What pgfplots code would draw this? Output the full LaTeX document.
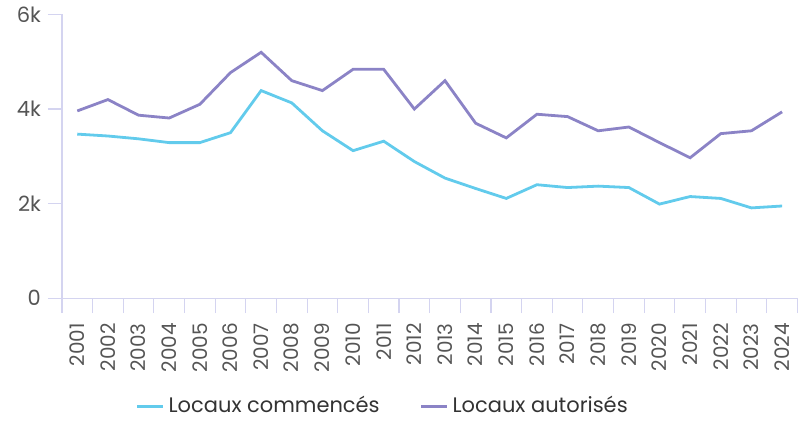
\documentclass[border=0pt]{standalone}
\usepackage{pgfplots}
\pgfplotsset{compat=1.18}
\usepackage{fontspec}
\setmainfont{Poppins}
\definecolor{cblue}{HTML}{62CBEC}
\definecolor{cpurple}{HTML}{8B83C6}
\definecolor{caxis}{HTML}{D4D4F0}
\definecolor{ctick}{HTML}{555555}
\begin{document}
\begin{tikzpicture}
\begin{axis}[
  scale only axis,
  width=368pt, height=142pt,
  xmin=-0.5, xmax=23.5,
  ymin=0, ymax=6000,
  axis x line=bottom, axis y line=left,
  axis line style={-, draw=caxis, line width=0.6pt},
  xtick={0,...,23},
  xticklabels={2001,2002,2003,2004,2005,2006,2007,2008,2009,2010,2011,2012,2013,2014,2015,2016,2017,2018,2019,2020,2021,2022,2023,2024},
  minor xtick={-0.5,0.5,...,23.5},
  major x tick style={draw=none},
  minor x tick style={draw=caxis, line width=0.6pt},
  minor tick length=7.5pt,
  ytick={0,2000,4000,6000},
  yticklabels={0,2k,4k,6k},
  y tick style={draw=caxis, line width=0.6pt},
  major tick length=7pt,
  tick align=outside,
  /pgf/number format/assume math mode=true,
  xticklabel style={rotate=90, anchor=east, font=\fontsize{10}{12}\selectfont, text=ctick, xshift=-2pt},
  yticklabel style={font=\fontsize{10.5}{12}\selectfont, text=ctick},
  legend style={at={(0.4375,-0.38)}, anchor=center, draw=none, fill=none,
    legend columns=2, font=\fontsize{10.5}{12}\selectfont, text=black!80,
    /tikz/every even column/.append style={column sep=18pt}},
  legend image code/.code={\draw[#1, line width=1.5pt] (0pt,0pt) -- (13pt,0pt);},
  clip=false,
]
\path (rel axis cs:0,0) -- ++(-31pt,0pt);
\addplot[cblue, line width=1.4pt] coordinates {
(0,3470) (1,3430) (2,3370) (3,3290) (4,3290) (5,3500) (6,4390) (7,4130)
(8,3540) (9,3120) (10,3320) (11,2890) (12,2540) (13,2320) (14,2110) (15,2400)
(16,2340) (17,2370) (18,2340) (19,1990) (20,2150) (21,2110) (22,1910) (23,1950)};
\addlegendentry{Locaux commencés}
\addplot[cpurple, line width=1.4pt] coordinates {
(0,3960) (1,4200) (2,3870) (3,3810) (4,4100) (5,4770) (6,5200) (7,4600)
(8,4390) (9,4840) (10,4840) (11,4000) (12,4600) (13,3700) (14,3390) (15,3890)
(16,3840) (17,3540) (18,3620) (19,3290) (20,2970) (21,3480) (22,3540) (23,3940)};
\addlegendentry{Locaux autorisés}
\end{axis}
\end{tikzpicture}
\end{document}
